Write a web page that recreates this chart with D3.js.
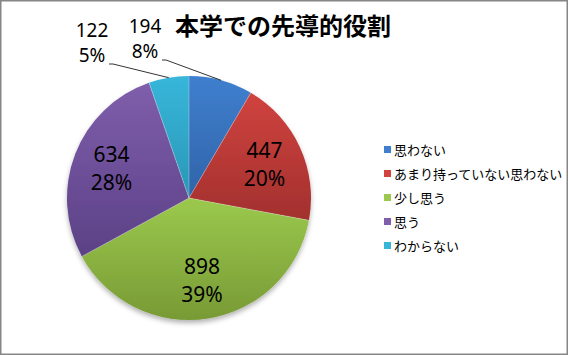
<!DOCTYPE html>
<html>
<head>
<meta charset="utf-8">
<script src="https://cdn.jsdelivr.net/npm/d3@7"></script>
<style>
  body { margin: 0; background: #fff; }
  svg { display: block; }
</style>
</head>
<body>
<div id="chart"></div>
<script>
var categories = ['思わない', 'あまり持っていない思わない', '少し思う', '思う', 'わからない']
var counts = [194, 447, 898, 634, 122]
var percents = ['8%', '20%', '39%', '28%', '5%']
var colors = ['#3f7fce', '#d0433f', '#9bc94d', '#7f5eab', '#37b6da']
var darkColors = ['#3064a8', '#a2302e', '#789a35', '#5b4186', '#2a97b6']
var chartTitle = '本学での先導的役割'

var width = 568
var height = 355
var cx = 189
var cy = 198
var radius = 122

var svg = d3.select('#chart')
  .append('svg')
  .attr('width', width)
  .attr('height', height)

// border
svg.append('rect')
  .attr('x', 0.75)
  .attr('y', 0.75)
  .attr('width', width - 1.5)
  .attr('height', height - 1.5)
  .attr('fill', '#fff')
  .attr('stroke', '#868686')
  .attr('stroke-width', 1.5)

var defs = svg.append('defs')

var shadow = defs.append('filter')
  .attr('id', 'shadow')
  .attr('x', '-20%').attr('y', '-20%')
  .attr('width', '140%').attr('height', '140%')
shadow.append('feDropShadow')
  .attr('dx', 0).attr('dy', 3)
  .attr('stdDeviation', 2.5)
  .attr('flood-color', '#000')
  .attr('flood-opacity', 0.3)

// vertical gradient per slice, light on top, dark at bottom
colors.forEach((c, i) => {
  var grad = defs.append('linearGradient')
    .attr('id', 'grad' + i)
    .attr('x1', 0).attr('y1', 0)
    .attr('x2', 0).attr('y2', 1)
  grad.append('stop').attr('offset', '0%').attr('stop-color', c)
  grad.append('stop').attr('offset', '100%').attr('stop-color', darkColors[i])
})

var pie = d3.pie().sort(null).value(d => d)
var arcs = pie(counts)

var arc = d3.arc().innerRadius(0).outerRadius(radius)
var labelArc = d3.arc().innerRadius(83).outerRadius(83)

var g = svg.append('g')
  .attr('transform', 'translate(' + cx + ',' + cy + ')')

var slices = g.append('g').attr('filter', 'url(#shadow)')
slices.selectAll('path')
  .data(arcs)
  .enter()
  .append('path')
  .attr('d', arc)
  .attr('fill', (d, i) => 'url(#grad' + i + ')')

slices.selectAll('line.sep')
  .data(arcs)
  .enter()
  .append('line')
  .attr('class', 'sep')
  .attr('x1', 0).attr('y1', 0)
  .attr('x2', d => radius * Math.sin(d.startAngle))
  .attr('y2', d => -radius * Math.cos(d.startAngle))
  .attr('stroke', '#fff')
  .attr('stroke-opacity', 0.5)
  .attr('stroke-width', 0.6)

// labels inside large slices
var inside = arcs.filter(d => d.endAngle - d.startAngle > 0.8)
inside.forEach(d => {
  var c = labelArc.centroid(d)
  var t = g.append('text')
    .attr('text-anchor', 'middle')
    .attr('font-family', 'Noto Sans, sans-serif')
    .attr('font-size', '21px')
    .attr('fill', '#000')
  t.append('tspan').attr('x', c[0]).attr('y', c[1] - 6).text(d.data)
  t.append('tspan').attr('x', c[0]).attr('y', c[1] + 22).text(percents[d.index])
})

// labels outside the small slices with leader lines
var outsideLabels = [
  { index: 0, dx: -44, dy: -165 },
  { index: 4, dx: -97, dy: -161 }
]
outsideLabels.forEach(o => {
  var d = arcs[o.index]
  var mid = (d.startAngle + d.endAngle) / 2
  var px = radius * Math.sin(mid)
  var py = -radius * Math.cos(mid)
  var t = g.append('text')
    .attr('text-anchor', 'middle')
    .attr('font-family', 'Noto Sans, sans-serif')
    .attr('font-size', '19px')
    .attr('fill', '#000')
  t.append('tspan').attr('x', o.dx).attr('y', o.dy).text(counts[o.index])
  t.append('tspan').attr('x', o.dx).attr('y', o.dy + 25).text(percents[o.index])
  var lx = o.dx + 17
  var ly = o.dy + 27
  g.append('polyline')
    .attr('points', [[lx, ly], [lx + 4, ly], [px, py]].map(p => p.join(',')).join(' '))
    .attr('fill', 'none')
    .attr('stroke', '#000')
    .attr('stroke-width', 0.8)
})

// title
svg.append('text')
  .attr('x', 283)
  .attr('y', 35)
  .attr('text-anchor', 'middle')
  .attr('font-family', 'Noto Sans CJK JP, sans-serif')
  .attr('font-weight', 'bold')
  .attr('font-size', '24px')
  .attr('fill', '#000')
  .text(chartTitle)

// legend
var legend = svg.append('g')
  .attr('transform', 'translate(384, 150)')

var rows = legend.selectAll('g')
  .data(categories)
  .enter()
  .append('g')
  .attr('transform', (d, i) => 'translate(0,' + i * 24 + ')')

rows.append('rect')
  .attr('x', 0).attr('y', -4)
  .attr('width', 7).attr('height', 7)
  .attr('fill', (d, i) => colors[i])

rows.append('text')
  .attr('x', 10)
  .attr('y', 5)
  .attr('font-family', 'Noto Sans CJK JP, sans-serif')
  .attr('font-size', '13px')
  .attr('fill', '#000')
  .text(d => d)
</script>
</body>
</html>
